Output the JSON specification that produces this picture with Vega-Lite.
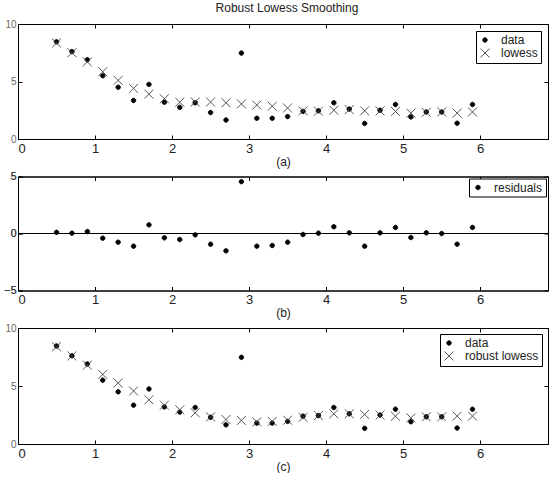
{
  "$schema": "https://vega.github.io/schema/vega-lite/v6.json",
  "padding": {"left": 2, "right": 0, "top": 1, "bottom": 0},
  "background": "white",
  "title": {"text": "Robust Lowess Smoothing", "anchor": "middle", "fontSize": 12, "fontWeight": "normal", "font": "Liberation Sans", "color": "#222", "offset": 4, "dx": 11},
  "bounds": "flush",
  "spacing": 37.5,
  "resolve": {"scale": {"shape": "independent", "fill": "independent", "stroke": "independent"}, "legend": {"shape": "independent", "fill": "independent", "stroke": "independent"}},
  "config": {
    "view": {"stroke": "black", "strokeWidth": 1},
    "font": "Liberation Sans",
    "axis": {"grid": false, "domainColor": "black", "tickColor": "black", "domainWidth": 1, "tickWidth": 1, "labelFont": "Liberation Sans", "titleFont": "Liberation Sans", "titleFontWeight": "normal", "titleColor": "#222"},
    "axisX": {"labelFontSize": 13, "labelColor": "#222", "tickSize": -4, "labelPadding": 7, "titleFontSize": 12, "titlePadding": 1},
    "axisY": {"labelFontSize": 10, "labelColor": "#666", "tickSize": -4, "labelPadding": 6},
    "legend": {"orient": "top-right", "offset": 6, "strokeColor": "black", "fillColor": "white", "padding": 3, "labelFontSize": 12, "labelColor": "#222", "labelFont": "Liberation Sans", "symbolSize": 80, "symbolStrokeWidth": 0.9, "rowPadding": 0, "labelOffset": 10, "cornerRadius": 0, "title": null}
  },
  "datasets": {
    "a": [
      {"x": 0.5, "series": "data", "y": 8.45}, {"x": 0.7, "series": "data", "y": 7.6}, {"x": 0.9, "series": "data", "y": 6.9}, {"x": 1.1, "series": "data", "y": 5.5},
      {"x": 1.3, "series": "data", "y": 4.5}, {"x": 1.5, "series": "data", "y": 3.35}, {"x": 1.7, "series": "data", "y": 4.75}, {"x": 1.9, "series": "data", "y": 3.2},
      {"x": 2.1, "series": "data", "y": 2.75}, {"x": 2.3, "series": "data", "y": 3.15}, {"x": 2.5, "series": "data", "y": 2.3}, {"x": 2.7, "series": "data", "y": 1.65},
      {"x": 2.9, "series": "data", "y": 7.47}, {"x": 3.1, "series": "data", "y": 1.8}, {"x": 3.3, "series": "data", "y": 1.8}, {"x": 3.5, "series": "data", "y": 1.95},
      {"x": 3.7, "series": "data", "y": 2.4}, {"x": 3.9, "series": "data", "y": 2.45}, {"x": 4.1, "series": "data", "y": 3.15}, {"x": 4.3, "series": "data", "y": 2.6},
      {"x": 4.5, "series": "data", "y": 1.35}, {"x": 4.7, "series": "data", "y": 2.5}, {"x": 4.9, "series": "data", "y": 3.0}, {"x": 5.1, "series": "data", "y": 1.92},
      {"x": 5.3, "series": "data", "y": 2.35}, {"x": 5.5, "series": "data", "y": 2.35}, {"x": 5.7, "series": "data", "y": 1.37}, {"x": 5.9, "series": "data", "y": 3.0},
      {"x": 0.5, "series": "lowess", "y": 8.35}, {"x": 0.7, "series": "lowess", "y": 7.5}, {"x": 0.9, "series": "lowess", "y": 6.7}, {"x": 1.1, "series": "lowess", "y": 5.85},
      {"x": 1.3, "series": "lowess", "y": 5.1}, {"x": 1.5, "series": "lowess", "y": 4.4}, {"x": 1.7, "series": "lowess", "y": 3.9}, {"x": 1.9, "series": "lowess", "y": 3.5},
      {"x": 2.1, "series": "lowess", "y": 3.2}, {"x": 2.3, "series": "lowess", "y": 3.22}, {"x": 2.5, "series": "lowess", "y": 3.22}, {"x": 2.7, "series": "lowess", "y": 3.15},
      {"x": 2.9, "series": "lowess", "y": 3.05}, {"x": 3.1, "series": "lowess", "y": 2.95}, {"x": 3.3, "series": "lowess", "y": 2.85}, {"x": 3.5, "series": "lowess", "y": 2.7},
      {"x": 3.7, "series": "lowess", "y": 2.45}, {"x": 3.9, "series": "lowess", "y": 2.42}, {"x": 4.1, "series": "lowess", "y": 2.5}, {"x": 4.3, "series": "lowess", "y": 2.55},
      {"x": 4.5, "series": "lowess", "y": 2.45}, {"x": 4.7, "series": "lowess", "y": 2.45}, {"x": 4.9, "series": "lowess", "y": 2.4}, {"x": 5.1, "series": "lowess", "y": 2.25},
      {"x": 5.3, "series": "lowess", "y": 2.32}, {"x": 5.5, "series": "lowess", "y": 2.35}, {"x": 5.7, "series": "lowess", "y": 2.25}, {"x": 5.9, "series": "lowess", "y": 2.35}
    ],
    "b": [
      {"x": 0.5, "series": "residuals", "y": 0.1}, {"x": 0.7, "series": "residuals", "y": 0.03}, {"x": 0.9, "series": "residuals", "y": 0.17}, {"x": 1.1, "series": "residuals", "y": -0.41},
      {"x": 1.3, "series": "residuals", "y": -0.76}, {"x": 1.5, "series": "residuals", "y": -1.11}, {"x": 1.7, "series": "residuals", "y": 0.76}, {"x": 1.9, "series": "residuals", "y": -0.38},
      {"x": 2.1, "series": "residuals", "y": -0.53}, {"x": 2.3, "series": "residuals", "y": -0.12}, {"x": 2.5, "series": "residuals", "y": -0.94}, {"x": 2.7, "series": "residuals", "y": -1.52},
      {"x": 2.9, "series": "residuals", "y": 4.55}, {"x": 3.1, "series": "residuals", "y": -1.11}, {"x": 3.3, "series": "residuals", "y": -1.05}, {"x": 3.5, "series": "residuals", "y": -0.76},
      {"x": 3.7, "series": "residuals", "y": -0.09}, {"x": 3.9, "series": "residuals", "y": 0.03}, {"x": 4.1, "series": "residuals", "y": 0.59}, {"x": 4.3, "series": "residuals", "y": 0.06},
      {"x": 4.5, "series": "residuals", "y": -1.11}, {"x": 4.7, "series": "residuals", "y": 0.06}, {"x": 4.9, "series": "residuals", "y": 0.53}, {"x": 5.1, "series": "residuals", "y": -0.35},
      {"x": 5.3, "series": "residuals", "y": 0.06}, {"x": 5.5, "series": "residuals", "y": 0.0}, {"x": 5.7, "series": "residuals", "y": -0.94}, {"x": 5.9, "series": "residuals", "y": 0.53}
    ],
    "c": [
      {"x": 0.5, "series": "data", "y": 8.45}, {"x": 0.7, "series": "data", "y": 7.6}, {"x": 0.9, "series": "data", "y": 6.9}, {"x": 1.1, "series": "data", "y": 5.5},
      {"x": 1.3, "series": "data", "y": 4.5}, {"x": 1.5, "series": "data", "y": 3.35}, {"x": 1.7, "series": "data", "y": 4.75}, {"x": 1.9, "series": "data", "y": 3.2},
      {"x": 2.1, "series": "data", "y": 2.75}, {"x": 2.3, "series": "data", "y": 3.15}, {"x": 2.5, "series": "data", "y": 2.3}, {"x": 2.7, "series": "data", "y": 1.65},
      {"x": 2.9, "series": "data", "y": 7.47}, {"x": 3.1, "series": "data", "y": 1.8}, {"x": 3.3, "series": "data", "y": 1.8}, {"x": 3.5, "series": "data", "y": 1.95},
      {"x": 3.7, "series": "data", "y": 2.4}, {"x": 3.9, "series": "data", "y": 2.45}, {"x": 4.1, "series": "data", "y": 3.15}, {"x": 4.3, "series": "data", "y": 2.6},
      {"x": 4.5, "series": "data", "y": 1.35}, {"x": 4.7, "series": "data", "y": 2.5}, {"x": 4.9, "series": "data", "y": 3.0}, {"x": 5.1, "series": "data", "y": 1.92},
      {"x": 5.3, "series": "data", "y": 2.35}, {"x": 5.5, "series": "data", "y": 2.35}, {"x": 5.7, "series": "data", "y": 1.37}, {"x": 5.9, "series": "data", "y": 3.0},
      {"x": 0.5, "series": "robust lowess", "y": 8.38}, {"x": 0.7, "series": "robust lowess", "y": 7.6}, {"x": 0.9, "series": "robust lowess", "y": 6.8}, {"x": 1.1, "series": "robust lowess", "y": 6.0},
      {"x": 1.3, "series": "robust lowess", "y": 5.26}, {"x": 1.5, "series": "robust lowess", "y": 4.57}, {"x": 1.7, "series": "robust lowess", "y": 3.81}, {"x": 1.9, "series": "robust lowess", "y": 3.35},
      {"x": 2.1, "series": "robust lowess", "y": 2.95}, {"x": 2.3, "series": "robust lowess", "y": 2.69}, {"x": 2.5, "series": "robust lowess", "y": 2.34}, {"x": 2.7, "series": "robust lowess", "y": 2.11},
      {"x": 2.9, "series": "robust lowess", "y": 2.03}, {"x": 3.1, "series": "robust lowess", "y": 1.9}, {"x": 3.3, "series": "robust lowess", "y": 1.95}, {"x": 3.5, "series": "robust lowess", "y": 2.05},
      {"x": 3.7, "series": "robust lowess", "y": 2.3}, {"x": 3.9, "series": "robust lowess", "y": 2.45}, {"x": 4.1, "series": "robust lowess", "y": 2.6}, {"x": 4.3, "series": "robust lowess", "y": 2.6},
      {"x": 4.5, "series": "robust lowess", "y": 2.55}, {"x": 4.7, "series": "robust lowess", "y": 2.49}, {"x": 4.9, "series": "robust lowess", "y": 2.4}, {"x": 5.1, "series": "robust lowess", "y": 2.25},
      {"x": 5.3, "series": "robust lowess", "y": 2.34}, {"x": 5.5, "series": "robust lowess", "y": 2.34}, {"x": 5.7, "series": "robust lowess", "y": 2.4}, {"x": 5.9, "series": "robust lowess", "y": 2.4}
    ]
  },
  "vconcat": [
    {
      "width": 530, "height": 115,
      "data": {"name": "a"},
      "layer": [
        {
          "mark": {"type": "point", "size": 80, "strokeWidth": 0.9, "opacity": 1},
          "encoding": {
            "x": {"field": "x", "type": "quantitative", "scale": {"domain": [0, 6.88], "nice": false, "zero": false}, "axis": {"orient": "bottom", "values": [0, 1, 2, 3, 4, 5, 6], "title": "(a)"}},
            "y": {"field": "y", "type": "quantitative", "scale": {"domain": [0, 10], "nice": false}, "axis": {"orient": "left", "values": [0, 5, 10], "title": null}},
            "shape": {"field": "series", "type": "nominal", "scale": {"domain": ["data", "lowess"], "range": ["M-0.5,0A0.5,0.5 0 1,0 0.5,0A0.5,0.5 0 1,0 -0.5,0Z", "M-1,-1L1,1M-1,1L1,-1"]}, "legend": {"offset": 7}},
            "fill": {"field": "series", "type": "nominal", "scale": {"domain": ["data", "lowess"], "range": ["black", "transparent"]}},
            "stroke": {"field": "series", "type": "nominal", "scale": {"domain": ["data", "lowess"], "range": ["black", "#444444"]}}
          }
        },
        {
          "mark": {"type": "point", "opacity": 0},
          "encoding": {
            "x": {"field": "x", "type": "quantitative", "axis": {"orient": "top", "values": [0, 1, 2, 3, 4, 5, 6], "labels": false, "title": null}},
            "y": {"field": "y", "type": "quantitative", "axis": {"orient": "right", "values": [0, 5, 10], "labels": false, "title": null}}
          }
        }
      ],
      "resolve": {"axis": {"x": "independent", "y": "independent"}}
    },
    {
      "width": 530, "height": 114,
      "data": {"name": "b"},
      "layer": [
        {
          "mark": {"type": "rule", "color": "black", "strokeWidth": 1},
          "encoding": {"y": {"datum": 0, "type": "quantitative"}}
        },
        {
          "mark": {"type": "point", "size": 80, "strokeWidth": 0.9, "opacity": 1, "clip": true},
          "encoding": {
            "x": {"field": "x", "type": "quantitative", "scale": {"domain": [0, 6.88], "nice": false, "zero": false}, "axis": {"orient": "bottom", "values": [0, 1, 2, 3, 4, 5, 6], "title": "(b)"}},
            "y": {"field": "y", "type": "quantitative", "scale": {"domain": [-5, 5], "nice": false}, "axis": {"orient": "left", "values": [-5, 0, 5], "title": null, "labelColor": "#333", "labelFontSize": 11}},
            "shape": {"field": "series", "type": "nominal", "scale": {"domain": ["residuals"], "range": ["M-0.5,0A0.5,0.5 0 1,0 0.5,0A0.5,0.5 0 1,0 -0.5,0Z"]}, "legend": {"offset": 2}},
            "fill": {"field": "series", "type": "nominal", "scale": {"domain": ["residuals"], "range": ["black"]}},
            "stroke": {"field": "series", "type": "nominal", "scale": {"domain": ["residuals"], "range": ["black"]}}
          }
        },
        {
          "mark": {"type": "point", "opacity": 0},
          "encoding": {
            "x": {"field": "x", "type": "quantitative", "axis": {"orient": "top", "values": [0, 1, 2, 3, 4, 5, 6], "labels": false, "title": null}},
            "y": {"field": "y", "type": "quantitative", "axis": {"orient": "right", "values": [-5, 0, 5], "labels": false, "title": null}}
          }
        }
      ],
      "resolve": {"axis": {"x": "independent", "y": "independent"}}
    },
    {
      "width": 530, "height": 116,
      "data": {"name": "c"},
      "layer": [
        {
          "mark": {"type": "point", "size": 80, "strokeWidth": 0.9, "opacity": 1},
          "encoding": {
            "x": {"field": "x", "type": "quantitative", "scale": {"domain": [0, 6.88], "nice": false, "zero": false}, "axis": {"orient": "bottom", "values": [0, 1, 2, 3, 4, 5, 6], "title": "(c)"}},
            "y": {"field": "y", "type": "quantitative", "scale": {"domain": [0, 10], "nice": false}, "axis": {"orient": "left", "values": [0, 5, 10], "title": null}},
            "shape": {"field": "series", "type": "nominal", "scale": {"domain": ["data", "robust lowess"], "range": ["M-0.5,0A0.5,0.5 0 1,0 0.5,0A0.5,0.5 0 1,0 -0.5,0Z", "M-1,-1L1,1M-1,1L1,-1"]}, "legend": {"offset": 6}},
            "fill": {"field": "series", "type": "nominal", "scale": {"domain": ["data", "robust lowess"], "range": ["black", "transparent"]}},
            "stroke": {"field": "series", "type": "nominal", "scale": {"domain": ["data", "robust lowess"], "range": ["black", "#444444"]}}
          }
        },
        {
          "mark": {"type": "point", "opacity": 0},
          "encoding": {
            "x": {"field": "x", "type": "quantitative", "axis": {"orient": "top", "values": [0, 1, 2, 3, 4, 5, 6], "labels": false, "title": null}},
            "y": {"field": "y", "type": "quantitative", "axis": {"orient": "right", "values": [0, 5, 10], "labels": false, "title": null}}
          }
        }
      ],
      "resolve": {"axis": {"x": "independent", "y": "independent"}}
    }
  ]
}
